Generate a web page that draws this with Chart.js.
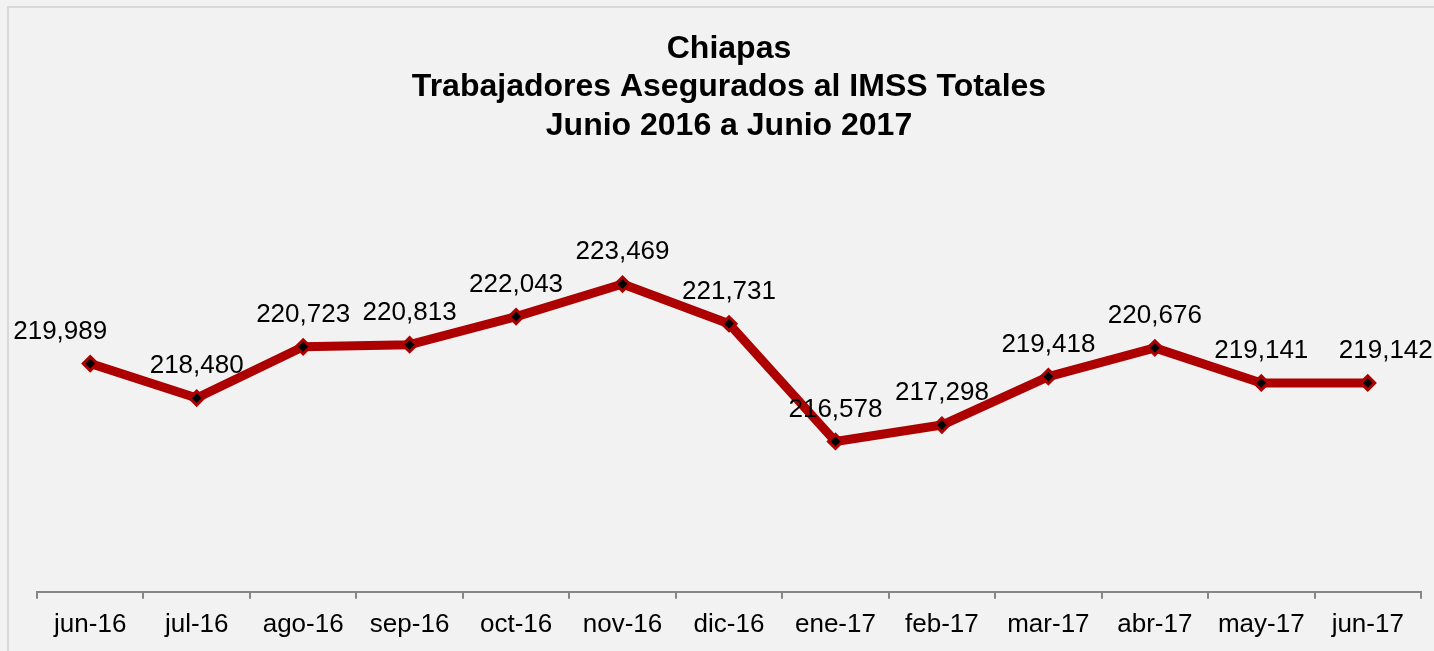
<!DOCTYPE html>
<html>
<head>
<meta charset="utf-8">
<script src="https://cdn.jsdelivr.net/npm/chart.js@4/dist/chart.umd.min.js"></script>
<style>
	html, body { margin: 0; padding: 0; background: #f2f2f2; overflow: hidden; }
	canvas { display: block; }
</style>
</head>
<body>
<canvas id="chart" width="1458" height="651"></canvas>
<script>
'use strict';

var months = ['jun-16', 'jul-16', 'ago-16', 'sep-16', 'oct-16', 'nov-16', 'dic-16',
	'ene-17', 'feb-17', 'mar-17', 'abr-17', 'may-17', 'jun-17'];
var workers = [219989, 218480, 220723, 220813, 222043, 223469, 221731,
	216578, 217298, 219418, 220676, 219141, 219142];
var titleLines = ['Chiapas', 'Trabajadores Asegurados al IMSS Totales', 'Junio 2016 a Junio 2017'];

// labels that were nudged sideways in the original
var labelShift = [-30, 0, 0, 0, 0, 0, 0, 0, 0, 0, 0, 0, 18];

var FONT = "'Liberation Sans', Arial, sans-serif",
	RED = '#ad0000',
	AXIS = '#868686';

// Background and the thin frame round the chart
var frame = {
	id: 'frame',
	beforeDraw: function (chart) {
		var ctx = chart.ctx;
		ctx.save();
		ctx.fillStyle = '#f2f2f2';
		ctx.fillRect(0, 0, chart.width, chart.height);
		ctx.strokeStyle = '#d9d9d9';
		ctx.lineWidth = 2;
		ctx.strokeRect(8, 7, chart.width - 16, chart.height + 20);
		ctx.restore();
	}
};

// Value labels above each point
var valueLabels = {
	id: 'valueLabels',
	afterDatasetsDraw: function (chart) {
		var ctx = chart.ctx,
			meta = chart.getDatasetMeta(0),
			values = chart.data.datasets[0].data;
		ctx.save();
		ctx.font = '26px ' + FONT;
		ctx.fillStyle = '#000';
		ctx.textAlign = 'center';
		ctx.textBaseline = 'middle';
		meta.data.forEach(function (pt, i) {
			ctx.fillText(values[i].toLocaleString('en-US'), pt.x + labelShift[i], pt.y - 32);
		});
		ctx.restore();
	}
};

new Chart(document.getElementById('chart'), {
	type: 'line',
	data: {
		labels: months,
		datasets: [{
			data: workers,
			borderColor: RED,
			borderWidth: 9,
			borderJoinStyle: 'round',
			tension: 0,
			pointStyle: 'rectRot',
			pointRadius: 7,
			pointBackgroundColor: '#000',
			pointBorderColor: RED,
			pointBorderWidth: 3
		}]
	},
	options: {
		responsive: false,
		animation: false,
		layout: {
			padding: { left: 37, right: 37, top: 0, bottom: 1 }
		},
		plugins: {
			legend: { display: false },
			tooltip: { enabled: false },
			title: {
				display: true,
				text: titleLines,
				color: '#000',
				font: { family: FONT, size: 32, weight: 'bold' },
				padding: { top: 30, bottom: 81 }
			}
		},
		scales: {
			x: {
				offset: true,
				grid: {
					offset: true,
					drawOnChartArea: false,
					tickLength: 7,
					color: AXIS,
					lineWidth: 2
				},
				border: { color: AXIS, width: 2 },
				ticks: {
					color: '#000',
					padding: 10,
					maxRotation: 0,
					font: { family: FONT, size: 26 }
				}
			},
			y: {
				display: false,
				min: 210000,
				max: 226000
			}
		}
	},
	plugins: [frame, valueLabels]
});
</script>
</body>
</html>
